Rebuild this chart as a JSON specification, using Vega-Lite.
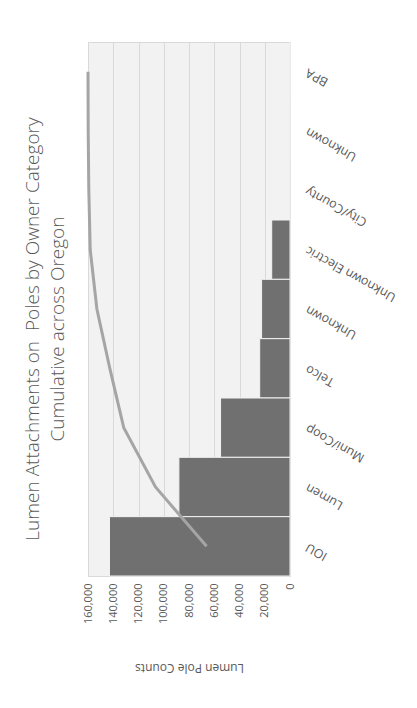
{
  "$schema": "https://vega.github.io/schema/vega-lite/v6.json",
  "width": 202,
  "height": 534,
  "autosize": {"type": "none"},
  "padding": {"left": 88, "top": 42, "right": 127, "bottom": 132},
  "background": "white",
  "title": {
    "text": ["Lumen Attachments on\u00a0 Poles by Owner Category", "Cumulative across Oregon"],
    "orient": "left",
    "anchor": "middle",
    "offset": 14,
    "dx": -20,
    "dy": 0,
    "font": "Open Sans",
    "fontSize": 19,
    "fontWeight": 300,
    "color": "#595959",
    "lineHeight": 25
  },
  "config": {
    "view": {"fill": "#f2f2f2", "stroke": "#d9d9d9", "strokeWidth": 1},
    "font": "Open Sans"
  },
  "data": {
    "values": [
      {"category": "BPA", "count": 50, "cum_pct": 1.0},
      {"category": "Unknown 2", "count": 100, "cum_pct": 0.999},
      {"category": "City/County", "count": 300, "cum_pct": 0.996},
      {"category": "Unknown Electric", "count": 14500, "cum_pct": 0.989},
      {"category": "Unknown", "count": 22500, "cum_pct": 0.956},
      {"category": "Telco", "count": 24000, "cum_pct": 0.892},
      {"category": "Muni/Coop", "count": 55000, "cum_pct": 0.823},
      {"category": "Lumen", "count": 88000, "cum_pct": 0.666},
      {"category": "IOU", "count": 143000, "cum_pct": 0.413}
    ]
  },
  "encoding": {
    "y": {
      "field": "category",
      "type": "nominal",
      "sort": null,
      "scale": {"paddingInner": 0, "paddingOuter": 0},
      "axis": {
        "orient": "right",
        "title": null,
        "domain": false,
        "ticks": false,
        "labelAngle": -151,
        "labelAlign": "right",
        "labelBaseline": "middle",
        "labelPadding": 16,
        "labelFontSize": 12.5,
        "labelColor": "#595959",
        "labelExpr": "datum.label == 'Unknown 2' ? 'Unknown' : datum.label"
      }
    }
  },
  "layer": [
    {
      "mark": {"type": "bar", "color": "#707070", "stroke": "#f2f2f2", "strokeWidth": 1},
      "encoding": {
        "x": {
          "field": "count",
          "type": "quantitative",
          "scale": {"domain": [0, 160000], "reverse": true, "nice": false},
          "axis": {
            "orient": "bottom",
            "values": [0, 20000, 40000, 60000, 80000, 100000, 120000, 140000, 160000],
            "format": ",d",
            "title": "Lumen Pole Counts",
            "titleAngle": 180,
            "titleFontSize": 12,
            "titleFontWeight": "normal",
            "titleColor": "#595959",
            "titlePadding": 44,
            "titleBaseline": "middle",
            "labelAngle": -90,
            "labelAlign": "right",
            "labelBaseline": "middle",
            "labelFontSize": 11,
            "labelColor": "#595959",
            "labelPadding": 7,
            "domain": false,
            "ticks": false,
            "grid": true,
            "gridColor": "#d9d9d9",
            "gridWidth": 1
          }
        }
      }
    },
    {
      "mark": {"type": "line", "color": "#a5a5a5", "strokeWidth": 3},
      "encoding": {
        "x": {
          "field": "cum_pct",
          "type": "quantitative",
          "scale": {"domain": [0, 1], "reverse": true, "nice": false},
          "axis": null
        }
      }
    }
  ],
  "resolve": {"scale": {"x": "independent"}}
}
